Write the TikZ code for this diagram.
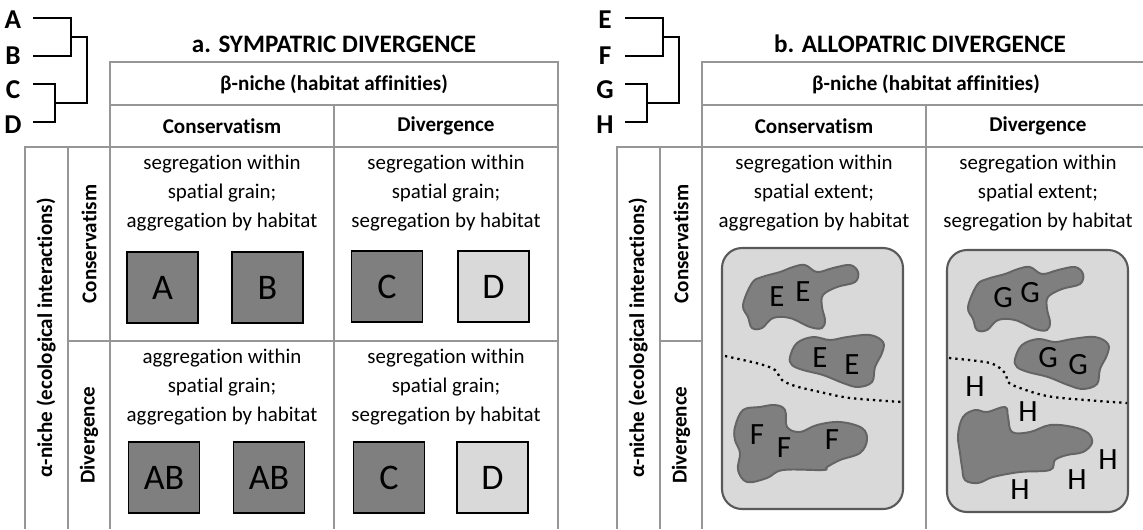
\documentclass[tikz,border=0pt]{standalone}
\usepackage{fontspec}
\setmainfont{Carlito}[Ligatures={NoCommon,NoContextual}]
\definecolor{boxdark}{RGB}{127,127,127}
\definecolor{boxlight}{RGB}{217,217,217}
\definecolor{gridgray}{RGB}{150,150,150}
\definecolor{blobedge}{RGB}{100,100,100}
\definecolor{frameedge}{RGB}{89,89,89}
\usetikzlibrary{calc}

\tikzset{
  tabline/.style={draw=gridgray, line width=0.6pt},
  tree/.style={line width=1.4pt},
  leaf/.style={font=\fontsize{15.5}{18}\selectfont\bfseries, inner sep=0pt},
  ttl/.style={font=\fontsize{14.3}{17}\selectfont\bfseries},
  hdr/.style={font=\fontsize{12}{14}\selectfont\bfseries},
  celltxt/.style={align=center, font=\fontsize{11.9}{16.5}\selectfont},
  sq/.style={draw=black, line width=1pt, minimum size=1.42cm, inner sep=0pt, font=\fontsize{20.5}{24}\selectfont},
  habbox/.style={fill=boxlight, draw=frameedge, line width=1.2pt, rounded corners=0.4cm},
  blob/.style={fill=boxdark, draw=blobedge, line width=1.1pt},
  blobtxt/.style={font=\fontsize{17.6}{20}\selectfont, inner sep=0pt},
  rangeline/.style={line width=1.3pt, dash pattern=on 1.3pt off 2.3pt}
}

\begin{document}
\begin{tikzpicture}[x=0.02cm, y=-0.02cm]
  \useasboundingbox (0,0) rectangle (1143,529);

  % Sympatric
  \begin{scope}
    \node[leaf] (A) at (13,20) {A};
    \node[leaf] (B) at (13,56) {B};
    \node[leaf] (C) at (13,90) {C};
    \node[leaf] (D) at (13,125) {D};
    \coordinate (abj) at (71,37);
    \coordinate (cdj) at (55,103);
    \coordinate (rootA) at (87,70);
    \draw[tree] ($(A.center)+(20,-2)$) -| (abj) |- ($(B.center)+(20,0)$);
    \draw[tree] ($(C.center)+(20,-6)$) -| (cdj) |- ($(D.center)+(20,-3)$);
    \draw[tree] (abj) -| (rootA) |- (cdj);

    \node[ttl] (titleA) at (334,44) {a. SYMPATRIC DIVERGENCE};

    \draw[tabline] (110,529) -- (110,62) -- (558,62) -- (558,529);
    \draw[tabline] (110,105) -- (558,105);
    \draw[tabline] (25,529) -- (25,147) -- (558,147);
    \draw[tabline] (68,147) -- (68,529);
    \draw[tabline] (334,105) -- (334,529);
    \draw[tabline] (68,341) -- (558,341);

    \node[hdr] (betaA) at (334,84) {β-niche (habitat affinities)};
    \node[hdr] (consA) at (222,126) {Conservatism};
    \node[hdr] (divA) at (446,126) {Divergence};
    \node[hdr, rotate=90] (alphaA) at (46,338) {α-niche (ecological interactions)};
    \node[hdr, rotate=90] (rowconsA) at (89,244) {Conservatism};
    \node[hdr, rotate=90] (rowdivA) at (89,435) {Divergence};

    \node[celltxt] (ccA) at (222,193) {segregation within\\spatial grain;\\aggregation by habitat};
    \node[celltxt] (cdA) at (446,193) {segregation within\\spatial grain;\\segregation by habitat};
    \node[celltxt] (dcA) at (222,387) {aggregation within\\spatial grain;\\aggregation by habitat};
    \node[celltxt] (ddA) at (446,387) {segregation within\\spatial grain;\\segregation by habitat};

    \foreach \nm/\x/\y/\c/\t in {sqA/162.5/287.5/boxdark/A, sqB/267.5/287.5/boxdark/B,
        sqC/387/286.5/boxdark/C, sqD/493.5/286.5/boxlight/D,
        sqAB/164/477.5/boxdark/AB, sqABb/269/477.5/boxdark/AB,
        sqCb/389/477.5/boxdark/C, sqDb/492.5/477.5/boxlight/D}
      \node[sq, fill=\c] (\nm) at (\x,\y) {\t};
  \end{scope}

  % Allopatric
  \begin{scope}[shift={(592,0)}]
    \node[leaf] (E) at (13,20) {E};
    \node[leaf] (F) at (13,56) {F};
    \node[leaf] (G) at (13,90) {G};
    \node[leaf] (H) at (13,125) {H};
    \coordinate (efj) at (71,37);
    \coordinate (ghj) at (55,103);
    \coordinate (rootB) at (87,70);
    \draw[tree] ($(E.center)+(20,-2)$) -| (efj) |- ($(F.center)+(20,0)$);
    \draw[tree] ($(G.center)+(20,-6)$) -| (ghj) |- ($(H.center)+(20,-3)$);
    \draw[tree] (efj) -| (rootB) |- (ghj);

    \node[ttl] (titleB) at (328,44) {b. ALLOPATRIC DIVERGENCE};

    \draw[tabline] (110,529) -- (110,62) -- (558,62) -- (558,529);
    \draw[tabline] (110,105) -- (558,105);
    \draw[tabline] (25,529) -- (25,147) -- (558,147);
    \draw[tabline] (68,147) -- (68,529);
    \draw[tabline] (334,105) -- (334,529);
    \draw[tabline] (68,341) -- (110,341);

    \node[hdr] (betaB) at (334,84) {β-niche (habitat affinities)};
    \node[hdr] (consB) at (222,126) {Conservatism};
    \node[hdr] (divB) at (446,126) {Divergence};
    \node[hdr, rotate=90] (alphaB) at (46,338) {α-niche (ecological interactions)};
    \node[hdr, rotate=90] (rowconsB) at (89,244) {Conservatism};
    \node[hdr, rotate=90] (rowdivB) at (89,435) {Divergence};

    \node[celltxt] (ccB) at (222,193) {segregation within\\spatial extent;\\aggregation by habitat};
    \node[celltxt] (cdB) at (446,193) {segregation within\\spatial extent;\\segregation by habitat};

    % landscapes
    \draw[habbox] (130,248) rectangle (311,509);
    \draw[habbox] (355,250) rectangle (536,512);

    \draw[blob] plot[smooth cycle, tension=0.6] coordinates {(151,305) (160,283) (170,277) (188,272)
      (201,267) (213,265) (225,272) (241,268) (258,265) (266,272) (263,282) (245,287) (231,295)
      (230,307) (233,320) (230,328) (218,327) (198,318) (181,318) (170,328) (160,328) (156,317)};
    \draw[blob] plot[smooth cycle, tension=0.6] coordinates {(198,357) (205,343) (221,337) (238,340)
      (255,337) (278,335) (291,342) (290,353) (283,367) (280,382) (266,387) (251,383) (231,375)
      (211,370) (200,365)};
    \draw[blob] plot[smooth cycle, tension=0.6] coordinates {(143,427) (151,410) (168,407) (183,405)
      (193,410) (195,427) (208,432) (225,425) (248,422) (270,428) (275,440) (268,453) (248,460)
      (235,467) (231,470) (191,470) (175,478) (155,482) (146,470) (148,453) (143,440)};

    \begin{scope}[shift={(225,2)}]
      \draw[blob] plot[smooth cycle, tension=0.6] coordinates {(151,305) (160,283) (170,277) (188,272)
        (201,267) (213,265) (225,272) (241,268) (258,265) (266,272) (263,282) (245,287) (231,295)
        (230,307) (233,320) (230,328) (218,327) (198,318) (181,318) (170,328) (160,328) (156,317)};
      \draw[blob] plot[smooth cycle, tension=0.6] coordinates {(198,357) (205,343) (221,337) (238,340)
        (255,337) (278,335) (291,342) (290,353) (283,367) (280,382) (266,387) (251,383) (231,375)
        (211,370) (200,365)};
    \end{scope}
    \draw[blob] plot[smooth cycle, tension=0.6] coordinates {(366,435) (371,417) (383,410) (395,412)
      (413,407) (416,417) (420,432) (438,432) (458,425) (481,427) (496,433) (500,443) (491,452)
      (475,455) (463,460) (458,470) (428,472) (401,477) (386,483) (373,480) (370,467) (368,453)};

    \draw[rangeline] plot[smooth, tension=0.5] coordinates {(133,356) (168,364) (183,370) (190,380)
      (203,386) (228,392) (258,398) (310,402)};
    \draw[rangeline] plot[smooth, tension=0.5] coordinates {(357,358) (398,363) (413,373) (416,382)
      (428,388) (461,397) (535,403)};

    \foreach \n/\x/\y in {1/185/297, 2/211/292, 3/228/358, 4/260/365}
      \node[blobtxt] (e\n) at (\x,\y) {E};
    \foreach \n/\x/\y in {1/165/435, 2/192/448, 3/240/440}
      \node[blobtxt] (f\n) at (\x,\y) {F};
    \foreach \n/\x/\y in {1/411/298, 2/438/293, 3/456/358, 4/486/365}
      \node[blobtxt] (g\n) at (\x,\y) {G};
    \foreach \n/\x/\y in {1/383/387, 2/436/412, 3/428/490, 4/485/480, 5/516/460}
      \node[blobtxt] (h\n) at (\x,\y) {H};
  \end{scope}
\end{tikzpicture}
\end{document}
